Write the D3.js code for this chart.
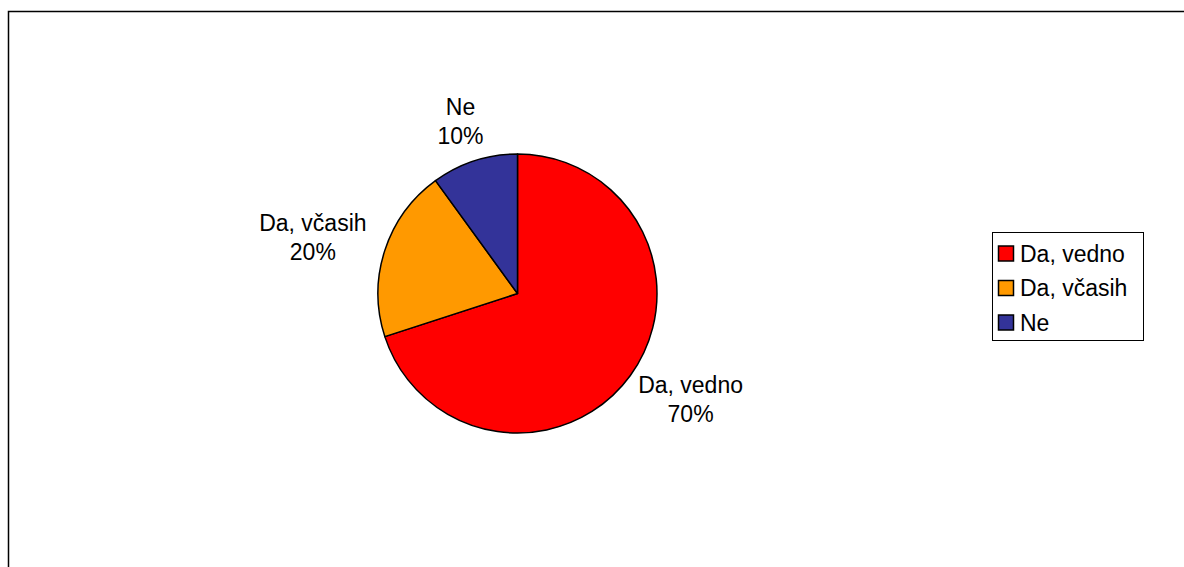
<!DOCTYPE html>
<html><head><meta charset="utf-8">
<script src="https://cdn.jsdelivr.net/npm/d3@7"></script>
<style>body{margin:0;background:#fff}svg{display:block}</style>
</head><body>
<svg id="c" width="1184" height="567"></svg>
<script>
const categories = ["Da, vedno", "Da, včasih", "Ne"];
const values = [70, 20, 10];
const colors = ["#FF0000", "#FF9900", "#333399"];
const percentLabels = ["70%", "20%", "10%"];

const svg = d3.select("#c");
const font = "Liberation Sans, Arial, sans-serif";
const fs = 23;
const lineH = 29;

// chart area border (extends past the window on right/bottom)
svg.append("rect").attr("x", 8.5).attr("y", 11.5).attr("width", 1190).attr("height", 600)
  .attr("fill", "#fff").attr("stroke", "#000").attr("stroke-width", 1.5);

const cx = 517.5, cy = 293.5, r = 139.5;
const pie = d3.pie().sort(null).value(d => d)(values);
const arc = d3.arc().innerRadius(0).outerRadius(r);
const g = svg.append("g").attr("transform", `translate(${cx},${cy})`);
g.selectAll("path").data(pie).join("path")
  .attr("d", arc).attr("fill", (d, i) => colors[i])
  .attr("stroke", "#000").attr("stroke-width", 1.5).attr("stroke-linejoin", "round");

// labels: box placed just outside the pie along the slice mid-angle
const anchorRx = r + 22, anchorRy = r + 14;
pie.forEach((d, i) => {
  const a = (d.startAngle + d.endAngle) / 2;
  const sx = Math.sin(a), sy = -Math.cos(a);
  const t = g.append("text").attr("font-family", font).attr("font-size", fs)
    .attr("text-anchor", "middle").attr("fill", "#000");
  t.append("tspan").attr("x", 0).attr("y", 0).text(categories[i]);
  t.append("tspan").attr("x", 0).attr("y", lineH).text(percentLabels[i]);
  const bb = t.node().getBBox();
  const w = bb.width, h = bb.height;
  const ccx = sx * (anchorRx + w / 2);
  const ccy = sy * (anchorRy + h / 2);
  const bcx = bb.x + w / 2, bcy = bb.y + h / 2;
  t.attr("transform", `translate(${ccx - bcx},${ccy - bcy})`);
});

// legend
const lx = 992.5, ly = 232.5, lw = 151, lh = 108;
svg.append("rect").attr("x", lx).attr("y", ly).attr("width", lw).attr("height", lh)
  .attr("fill", "#fff").attr("stroke", "#000").attr("stroke-width", 1);
const rowY = d3.scalePoint().domain(categories).range([253.5, 322.5]);
categories.forEach((c, i) => {
  const y = rowY(c);
  svg.append("rect").attr("x", 998.5).attr("y", y - 7.5).attr("width", 15).attr("height", 15)
    .attr("fill", colors[i]).attr("stroke", "#000").attr("stroke-width", 1.5);
  svg.append("text").attr("x", 1020).attr("y", y + 8).attr("font-family", font)
    .attr("font-size", fs).attr("fill", "#000").text(c);
});
</script>
</body></html>
